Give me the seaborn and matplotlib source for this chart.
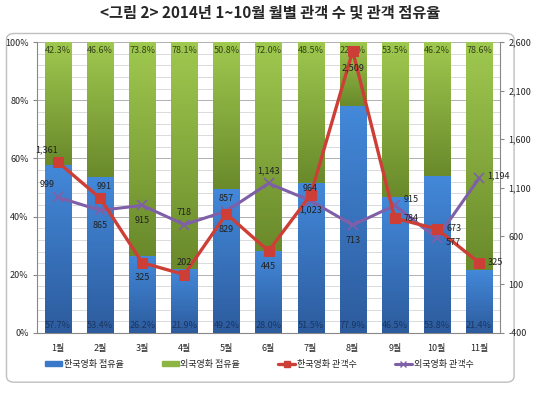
import numpy as np
import pandas as pd
import matplotlib
matplotlib.use('Agg')
import matplotlib.pyplot as plt
import seaborn as sns
from matplotlib.patches import FancyBboxPatch
from matplotlib.lines import Line2D
from matplotlib.patches import Patch
from matplotlib.colors import LinearSegmentedColormap
from matplotlib.ticker import FuncFormatter, MultipleLocator

months = ['1월', '2월', '3월', '4월', '5월', '6월', '7월', '8월', '9월', '10월', '11월']
kor_share = [57.7, 53.4, 26.2, 21.9, 49.2, 28.0, 51.5, 77.9, 46.5, 53.8, 21.4]
for_share = [42.3, 46.6, 73.8, 78.1, 50.8, 72.0, 48.5, 22.1, 53.5, 46.2, 78.6]
kor_aud = [1361, 991, 325, 202, 829, 445, 1023, 2509, 784, 673, 325]
for_aud = [999, 865, 915, 718, 857, 1143, 964, 713, 915, 577, 1194]

# label offsets in points (dx, dy)
kor_off = [(-8, 9), (3, 8), (0, -11), (0, 9), (0, -11), (0, -11), (0, -11), (0, -12), (12, 0), (12, 0), (12, 0)]
for_off = [(-8, 9), (0, -11), (0, -11), (0, 9), (0, 9), (0, 9), (0, 9), (0, -11), (12, 4), (12, -3), (14, 2)]

sns.set_style('white')
plt.rcParams['font.family'] = ['Noto Sans CJK KR', 'DejaVu Sans']

df = pd.DataFrame({'month': months, 'kor': kor_share, 'total': np.array(kor_share) + np.array(for_share)})

fig = plt.figure(figsize=(5.4, 3.94), dpi=100)
frame = FancyBboxPatch((0.012, 0.03), 0.94, 0.885, boxstyle='round,pad=0,rounding_size=0.015',
                       transform=fig.transFigure, facecolor='none', edgecolor='#bfbfbf', lw=1.0, zorder=-5)
fig.patches.append(frame)

ax = fig.add_axes([0.0685, 0.155, 0.8575, 0.738])
ax.patch.set_alpha(0)
blue = '#3a78c9'
green = '#8cb544'
sns.barplot(data=df, x='month', y='total', color=green, width=0.62, saturation=1, ax=ax, zorder=2)
sns.barplot(data=df, x='month', y='kor', color=blue, width=0.62, saturation=1, ax=ax, zorder=3)
for p in ax.patches:
    p.set_edgecolor('none')

# gradient fill on top of each bar segment
green_cm = LinearSegmentedColormap.from_list('g', ['#6a8a2b', '#9fc84f'])
blue_cm = LinearSegmentedColormap.from_list('b', ['#2d5c9e', '#4388d9'])
grad = np.linspace(0, 1, 64).reshape(-1, 1)
n = len(months)
for i, p in enumerate(ax.patches[:n]):
    x0, w = p.get_x(), p.get_width()
    ax.imshow(grad, cmap=green_cm, origin='lower', aspect='auto', zorder=2.5,
              extent=[x0, x0 + w, kor_share[i], 100])
for i, p in enumerate(ax.patches[n:2 * n]):
    x0, w = p.get_x(), p.get_width()
    ax.imshow(grad, cmap=blue_cm, origin='lower', aspect='auto', zorder=3.5,
              extent=[x0, x0 + w, 0, kor_share[i]])

ax.set_ylim(0, 100)
ax.set_xlim(-0.5, 10.5)
ax.yaxis.set_major_locator(MultipleLocator(20))
ax.yaxis.set_minor_locator(MultipleLocator(4))
ax.yaxis.set_major_formatter(FuncFormatter(lambda v, _: f'{v:.0f}%'))
ax.grid(axis='y', which='minor', color='#d4d4d4', lw=0.6, zorder=0)
ax.grid(axis='y', which='major', color='#b0b0b0', lw=0.7, zorder=0)
ax.set_axisbelow(True)
ax.set_xlabel('')
ax.set_ylabel('')
ax.tick_params(axis='both', labelsize=6.5, length=3, color='#888888', pad=3)
ax.tick_params(axis='y', which='minor', length=0)
ax.tick_params(axis='x', pad=5)
for s in ['top', 'right']:
    ax.spines[s].set_visible(False)
for s in ['left', 'bottom']:
    ax.spines[s].set_color('#888888')
    ax.spines[s].set_linewidth(0.8)

for i in range(n):
    ax.text(i, 2.5, f'{kor_share[i]:.1f}%', ha='center', va='center', fontsize=6.5, color='#1a3560', zorder=6)
    ax.text(i, 97, f'{for_share[i]:.1f}%', ha='center', va='center', fontsize=6.5, color='#33421a', zorder=6)

ax2 = ax.twinx()
x = np.arange(n)
sns.lineplot(x=x, y=for_aud, ax=ax2, color='#7f5fa8', lw=2.2, marker='x', markersize=7,
             markeredgewidth=1.2, markeredgecolor='#7f5fa8', zorder=4)
sns.lineplot(x=x, y=kor_aud, ax=ax2, color='#cd3f36', lw=2.4, marker='s', markersize=7,
             markeredgecolor='#cd3f36', zorder=5)
ax2.set_ylim(-400, 2600)
ax2.set_xlim(-0.5, 10.5)
ax2.set_yticks(np.arange(-400, 2601, 500))
ax2.yaxis.set_major_formatter(FuncFormatter(lambda v, _: f'{v:,.0f}'))
ax2.tick_params(axis='y', labelsize=6.5, length=3, color='#888888', pad=3)
for s in ['top', 'left', 'bottom']:
    ax2.spines[s].set_visible(False)
ax2.spines['right'].set_color('#888888')
ax2.spines['right'].set_linewidth(0.8)

for i in range(n):
    ax2.annotate(f'{kor_aud[i]:,}', (i, kor_aud[i]), xytext=kor_off[i], textcoords='offset points',
                 ha='center', va='center', fontsize=6.5, color='#222222', zorder=7)
    ax2.annotate(f'{for_aud[i]:,}', (i, for_aud[i]), xytext=for_off[i], textcoords='offset points',
                 ha='center', va='center', fontsize=6.5, color='#222222', zorder=7)

handles = [
    Patch(color=blue, label='한국영화 점유율'),
    Patch(color=green, label='외국영화 점유율'),
    Line2D([], [], color='#cd3f36', lw=2.4, marker='s', markersize=5, label='한국영화 관객수'),
    Line2D([], [], color='#7f5fa8', lw=2.2, marker='x', markersize=5, label='외국영화 관객수'),
]
fig.legend(handles=handles, loc='center', bbox_to_anchor=(0.48, 0.075), ncol=4, frameon=False,
           fontsize=6.5, handlelength=1.9, handleheight=0.45, columnspacing=4.2, handletextpad=0.2)

fig.text(0.5, 0.967, '<그림 2> 2014년 1~10월 월별 관객 수 및 관객 점유율', ha='center', va='center',
         fontsize=11, fontweight='bold')

fig.savefig('out.png', dpi=100)
